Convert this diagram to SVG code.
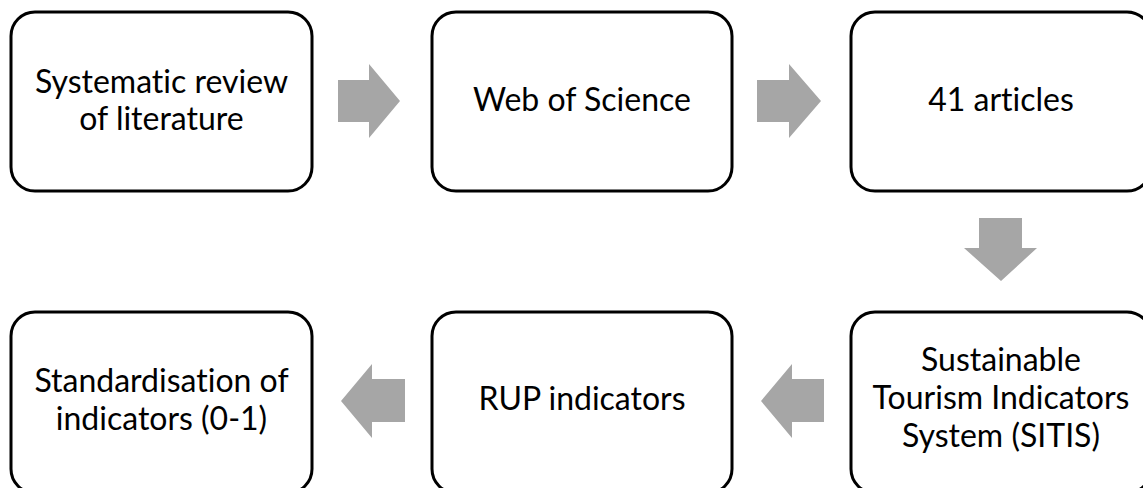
<svg xmlns="http://www.w3.org/2000/svg" width="1143" height="488" viewBox="0 0 1143 488">
<style>
.box{fill:#fff;stroke:#000;stroke-width:3}
.lbl{font-family:Lato,"Open Sans","Liberation Sans",sans-serif;font-size:32px;fill:#000;text-anchor:middle;font-variant-ligatures:none}
.arr{fill:#a6a6a6}
</style>
<rect width="1143" height="488" fill="#fff"/>
<g id="connectors">
<polygon class="arr" points="338,80 369,80 369,64 400,101 369,138 369,122 338,122"/>
<polygon class="arr" points="757,80 789,80 789,64 821,101 789,138 789,122 757,122"/>
<polygon class="arr" points="979,218 1022,218 1022,248 1037,248 1001,281 964,248 979,248"/>
<polygon class="arr" points="824,379 792,379 792,364 761,401 792,438 792,422 824,422"/>
<polygon class="arr" points="405,379 372,379 372,364 341,401 372,438 372,422 405,422"/>
</g>
<g id="n1"><rect class="box" x="11" y="12" width="301" height="179" rx="24"/>
<text class="lbl" x="161.5" y="93">Systematic review</text><text class="lbl" x="161.5" y="130">of literature</text></g>
<g id="n2"><rect class="box" x="432" y="12" width="300" height="179" rx="24"/>
<text class="lbl" x="582" y="111">Web of Science</text></g>
<g id="n3"><rect class="box" x="851" y="12" width="300" height="179" rx="24"/>
<text class="lbl" x="1001" y="111">41 articles</text></g>
<g id="n4"><rect class="box" x="851" y="312" width="300" height="181" rx="24"/>
<text class="lbl" x="1001" y="371">Sustainable</text><text class="lbl" x="1001" y="409">Tourism Indicators</text><text class="lbl" x="1001" y="447">System (SITIS)</text></g>
<g id="n5"><rect class="box" x="432" y="312" width="300" height="181" rx="24"/>
<text class="lbl" x="582" y="410">RUP indicators</text></g>
<g id="n6"><rect class="box" x="11" y="312" width="301" height="181" rx="24"/>
<text class="lbl" x="161.5" y="392">Standardisation of</text><text class="lbl" x="161.5" y="430">indicators (0-1)</text></g>
</svg>
